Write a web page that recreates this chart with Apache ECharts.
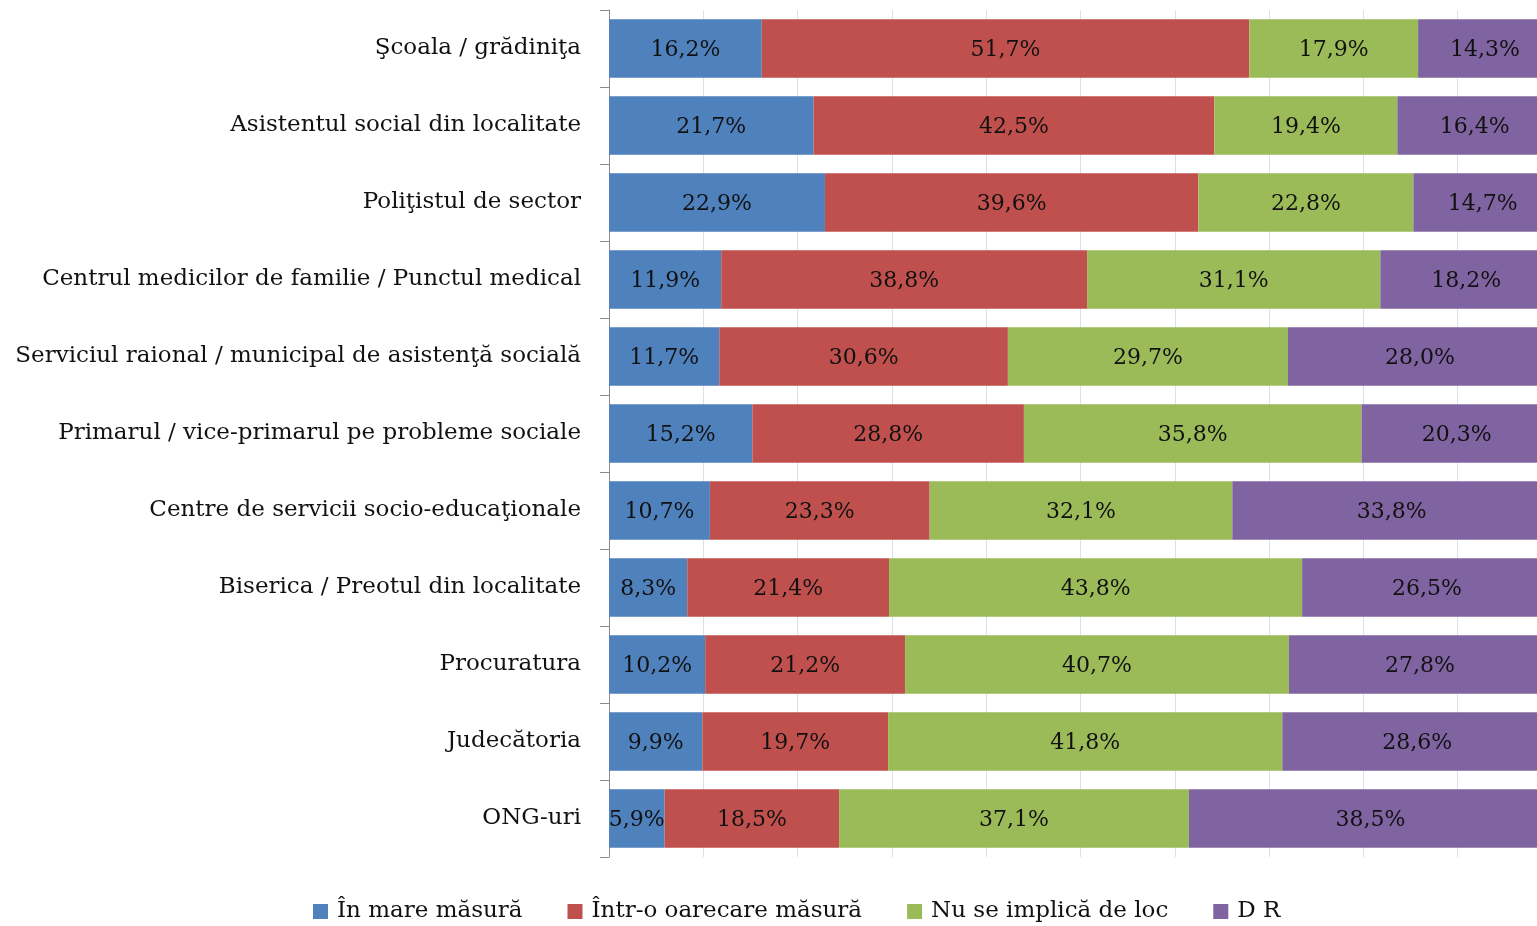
<!DOCTYPE html>
<html>
<head>
<meta charset="utf-8">
<script src="https://cdn.jsdelivr.net/npm/echarts@6/dist/echarts.min.js"></script>
<style>
    html, body { margin: 0; padding: 0; background: #fff; }
    #chart { width: 1537px; height: 926px; }
</style>
</head>
<body>
<div id="chart"></div>
<script>
// categorii (de sus in jos)
var categories = [
    'Şcoala / grădiniţa',
    'Asistentul social din localitate',
    'Poliţistul de sector',
    'Centrul medicilor de familie / Punctul medical',
    'Serviciul raional / municipal de asistenţă socială',
    'Primarul / vice-primarul pe probleme sociale',
    'Centre de servicii socio-educaţionale',
    'Biserica / Preotul din localitate',
    'Procuratura',
    'Judecătoria',
    'ONG-uri'
];
var seriesNames = ['În mare măsură', 'Într-o oarecare măsură', 'Nu se implică de loc', 'D R'];
var inMareMasura = [16.2, 21.7, 22.9, 11.9, 11.7, 15.2, 10.7, 8.3, 10.2, 9.9, 5.9];
var oarecareMasura = [51.7, 42.5, 39.6, 38.8, 30.6, 28.8, 23.3, 21.4, 21.2, 19.7, 18.5];
var nuSeImplica = [17.9, 19.4, 22.8, 31.1, 29.7, 35.8, 32.1, 43.8, 40.7, 41.8, 37.1];
var dr = [14.3, 16.4, 14.7, 18.2, 28.0, 20.3, 33.8, 26.5, 27.8, 28.6, 38.5];
var colors = ['#4f81bd', '#c0504d', '#9bbb59', '#8064a2'];

var fontFamily = '"DejaVu Serif", "Liberation Serif", serif';

function fmt(p) {
    return p.value.toFixed(1).replace('.', ',') + '%';
}

function makeSeries(name, data, color) {
    return {
        name: name,
        type: 'bar',
        stack: 'total',
        barCategoryGap: '24%',
        itemStyle: { color: color },
        label: {
            show: true,
            position: 'inside',
            formatter: fmt,
            offset: [0, 2],
            color: '#111',
            fontFamily: fontFamily,
            fontSize: 22
        },
        data: data
    };
}

var chart = echarts.init(document.getElementById('chart'));
chart.setOption({
    animation: false,
    textStyle: { fontFamily: fontFamily },
    legend: {
        bottom: -2,
        left: 308,
        itemWidth: 15,
        itemHeight: 15,
        itemGap: 45,
        icon: 'rect',
        textStyle: { fontSize: 23, color: '#111', fontFamily: fontFamily, padding: [0, 0, 0, 4] },
        data: seriesNames
    },
    grid: {
        left: 609,
        top: 10,
        width: 943,
        height: 847,
        outerBoundsMode: 'none',
        containLabel: false
    },
    xAxis: {
        type: 'value',
        min: 0,
        max: 100,
        interval: 10,
        axisLine: { show: false },
        axisTick: { show: false },
        axisLabel: { show: false },
        splitLine: { show: true, lineStyle: { color: '#d9e1ee', width: 1 } }
    },
    yAxis: {
        type: 'category',
        inverse: true,
        data: categories,
        axisLine: { show: true, lineStyle: { color: '#8c8c8c', width: 1 } },
        axisTick: { show: true, length: 9, lineStyle: { color: '#8c8c8c' } },
        axisLabel: { fontSize: 23, color: '#111', fontFamily: fontFamily, margin: 28, padding: [6, 0, 0, 0] }
    },
    series: [
        makeSeries(seriesNames[0], inMareMasura, colors[0]),
        makeSeries(seriesNames[1], oarecareMasura, colors[1]),
        makeSeries(seriesNames[2], nuSeImplica, colors[2]),
        makeSeries(seriesNames[3], dr, colors[3])
    ]
});
</script>
</body>
</html>
